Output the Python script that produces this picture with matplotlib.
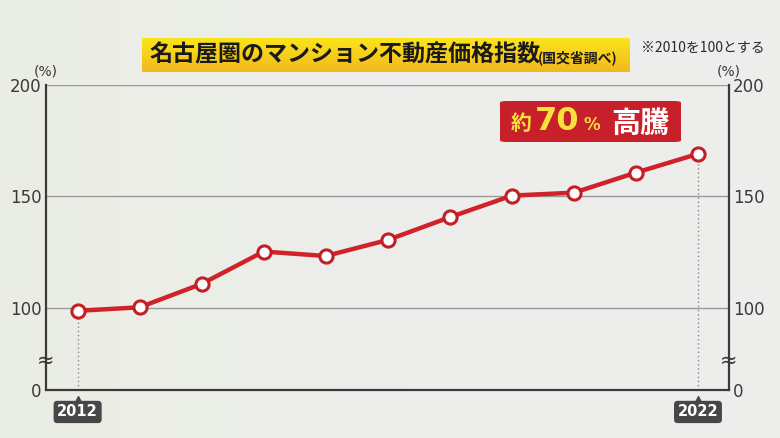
import matplotlib
matplotlib.use("Agg")
import matplotlib.pyplot as plt
import numpy as np
from matplotlib.patches import FancyBboxPatch
from matplotlib.transforms import blended_transform_factory

plt.rcParams['font.family'] = ['Noto Sans CJK JP', 'DejaVu Sans']

# ---- data ----
years = [2012, 2013, 2014, 2015, 2016, 2017, 2018, 2019, 2020, 2021, 2022]
index_values = [98.7, 100.3, 110.8, 125.3, 123.3, 130.5, 140.7, 150.4, 151.7, 160.7, 169.1]
ytick_values = [63.2, 100, 150, 200]
ytick_labels = ["0", "100", "150", "200"]
break_value = 76.5
title_main = "名古屋圏のマンション不動産価格指数"
title_sub = "(国交省調べ)"
note_text = "※2010を100とする"
year_labels = ["2012", "2022"]

W, H = 780, 438
fig = plt.figure(figsize=(W / 100, H / 100), dpi=100)
bg = "#ededeb"
fig.patch.set_facecolor(bg)

# faint background gradient
bgax = fig.add_axes([0, 0, 1, 1], zorder=-10)
gx = np.linspace(0, 1, 200)
gy = np.linspace(0, 1, 120)
GX, GY = np.meshgrid(gx, gy)
base = np.array([0.93, 0.93, 0.925])
green = np.array([0.915, 0.93, 0.88])
wgt = np.clip(1 - GX * 1.8, 0, 1)[..., None] * 0.7
img = base * (1 - wgt) + green * wgt
bgax.imshow(img, extent=[0, 1, 0, 1], aspect='auto', origin='lower')
bgax.set_axis_off()

def fx(px):
    return px / W

def fy(py):
    return 1 - py / H

ax = fig.add_axes([fx(46), fy(390), fx(729) - fx(46), fy(85) - fy(390)])
ax.set_facecolor("none")
ax.set_xlim(2011.49, 2022.5)
ax.set_ylim(ytick_values[0], 200)

# gridlines
for v in ytick_values[1:]:
    ax.axhline(v, color="#9a9a9a", lw=1.0, zorder=1)

for side in ["left", "right", "bottom"]:
    ax.spines[side].set_color("#3a3a3a")
    ax.spines[side].set_linewidth(1.6)
ax.spines["top"].set_visible(False)

ax.set_xticks([])
ax.set_yticks(ytick_values)
ax.set_yticklabels(ytick_labels)
ax.tick_params(axis="y", length=0, labelsize=12, colors="#3a3a3a",
               labelleft=True, labelright=True, pad=3)
for lab in ax.get_yticklabels():
    lab.set_family("DejaVu Sans")

# dotted vertical guides
ax.vlines([years[0], years[-1]], ytick_values[0], [index_values[0], index_values[-1]],
          colors="#8a8a8a", linestyles=(0, (1, 2)), lw=1.0, zorder=2)

# main line
ax.plot(years, index_values, color="#cf2229", lw=3.2, zorder=3,
        solid_capstyle="round")
ax.plot(years, index_values, ls="none", marker="o", ms=9.5, mfc="white",
        mec="#c41f27", mew=2.2, zorder=4)

# break marks
ybt = blended_transform_factory(ax.transAxes, ax.transData)
for xa in [0, 1]:
    ax.text(xa, break_value, "≈", transform=ybt, ha="center", va="center",
            fontsize=15, color="#3a3a3a", family="DejaVu Sans", zorder=6)

# (%) labels
for xa in [0.0, 1.0]:
    ax.text(xa, 1.045, "(%)", transform=ax.transAxes, ha="center", va="center",
            fontsize=10, color="#3a3a3a", family="DejaVu Sans")

# year labels with pointer
xbt = blended_transform_factory(ax.transData, ax.transAxes)
for yr, lab in zip([years[0], years[-1]], year_labels):
    ax.plot([yr], [-0.035], marker="^", ms=7, color="#474747", transform=xbt,
            clip_on=False, zorder=5)
    ax.text(yr, -0.072, lab, transform=xbt, ha="center", va="center",
            fontsize=10.5, fontweight="bold", color="white", family="DejaVu Sans",
            bbox=dict(boxstyle="round,pad=0.25,rounding_size=0.25", fc="#474747", ec="none"),
            clip_on=False, zorder=5)

# title box with gradient
tax = fig.add_axes([fx(142), fy(72), fx(630) - fx(142), fy(38) - fy(72)], zorder=5)
grad = np.linspace(0, 1, 50)[:, None]
top_c = np.array([0.98, 0.90, 0.10])
bot_c = np.array([0.95, 0.72, 0.12])
gimg = bot_c * (1 - grad[..., None]) + top_c * grad[..., None]
gimg = np.repeat(gimg, 10, axis=1)
tax.imshow(gimg, extent=[0, 1, 0, 1], aspect="auto", origin="lower")
tax.set_xlim(0, 1)
tax.set_ylim(0, 1)
tax.set_axis_off()
fig.text(fx(149), fy(55), title_main, ha="left", va="center", fontsize=16.6,
         fontweight="bold", color="#1a1a1a", zorder=10)
fig.text(fx(538), fy(57.5), title_sub, ha="left", va="center", fontsize=10,
         fontweight="bold", color="#1a1a1a", zorder=10)

fig.text(fx(641), fy(48), note_text, ha="left", va="center", fontsize=10,
         color="#2a2a2a")

# callout box
cax = fig.add_axes([fx(500), fy(142), fx(681) - fx(500), fy(101) - fy(142)], zorder=5)
cax.set_xlim(0, 1)
cax.set_ylim(0, 1)
cax.set_axis_off()
cax.add_patch(FancyBboxPatch((0, 0), 1, 1, boxstyle="round,pad=0,rounding_size=0.04",
                             fc="#c8202a", ec="none", transform=cax.transAxes))
cax.text(0.06, 0.45, "約", ha="left", va="center", fontsize=15, fontweight="bold",
         color="#f7e13a")
cax.text(0.19, 0.5, "70", ha="left", va="center", fontsize=23, fontweight="bold",
         color="#f7e13a", family="DejaVu Sans")
cax.text(0.46, 0.42, "%", ha="left", va="center", fontsize=12, fontweight="bold",
         color="#f7e13a", family="DejaVu Sans")
cax.text(0.615, 0.47, "高騰", ha="left", va="center", fontsize=21, fontweight="bold",
         color="white")

fig.savefig("out.png", dpi=100, facecolor=fig.get_facecolor())
